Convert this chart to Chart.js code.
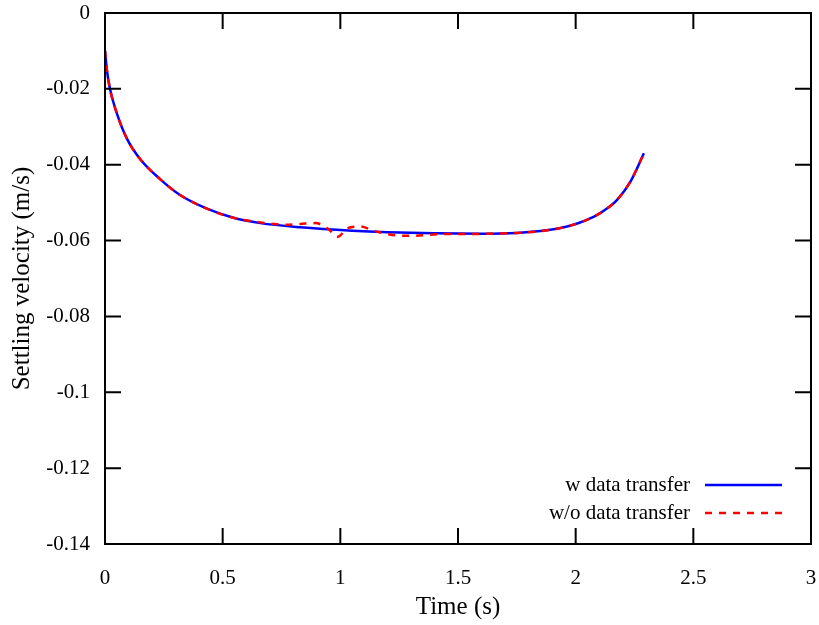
<!DOCTYPE html>
<html>
<head>
<meta charset="utf-8">
<script src="https://cdn.jsdelivr.net/npm/chart.js@4.4.0/dist/chart.umd.min.js"></script>
<style>
    html, body { margin: 0; padding: 0; background: #fff; }
    #wrap { width: 819px; height: 625px; }
</style>
</head>
<body>
<div id="wrap"><canvas id="chart" width="819" height="625"></canvas></div>
<script>
// Time (s) and settling velocity (m/s)
const timeW = [0, 0.008, 0.021, 0.05, 0.092, 0.149, 0.234, 0.319, 0.433, 0.546, 0.66, 0.83, 1.05, 1.2, 1.4,
    1.6, 1.75, 1.85, 1.936, 2.007, 2.078, 2.13, 2.177, 2.234, 2.29];
const velocityW = [-0.0100, -0.0150, -0.0200, -0.0264, -0.0330, -0.0385, -0.0438, -0.0480, -0.0516, -0.0540,
    -0.0554, -0.0565, -0.0574, -0.0578, -0.0581, -0.0582, -0.0580, -0.0575, -0.0567, -0.0555, -0.0537, -0.0517,
    -0.0492, -0.0443, -0.0370];

const timeWo = [0, 0.008, 0.021, 0.05, 0.092, 0.149, 0.234, 0.319, 0.433, 0.546, 0.66, 0.716, 0.773, 0.83, 0.894,
    0.946, 0.989, 1.031, 1.085, 1.142, 1.199, 1.255, 1.319, 1.376, 1.44, 1.5, 1.553, 1.617, 1.75, 1.85, 1.936,
    2.007, 2.078, 2.13, 2.177, 2.234, 2.29];
const velocityWo = [-0.0100, -0.0150, -0.0200, -0.0264, -0.0330, -0.0385, -0.0438, -0.0480, -0.0516, -0.0540,
    -0.0552, -0.0556, -0.0558, -0.0556, -0.0554, -0.0568, -0.0590, -0.0567, -0.0563, -0.0574, -0.0583, -0.0587,
    -0.0587, -0.0585, -0.0583, -0.0583, -0.0583, -0.0582, -0.0580, -0.0575, -0.0567, -0.0555, -0.0537, -0.0517,
    -0.0492, -0.0443, -0.0370];

const xTicks = [0, 0.5, 1, 1.5, 2, 2.5, 3];
const yTicks = [0, -0.02, -0.04, -0.06, -0.08, -0.1, -0.12, -0.14];

const seriesLabels = ['w data transfer', 'w/o data transfer'];

const FONT = "'Liberation Serif', 'Times New Roman', serif";

function toPoints(xs, ys) {
    return xs.map((x, i) => ({ x: x, y: ys[i] }));
}

function fmt(v) {
    return String(parseFloat(v.toFixed(2)));
}

function noPadding(s) {
    s.paddingTop = 0;
    s.paddingBottom = 0;
    s.paddingLeft = 0;
    s.paddingRight = 0;
}

// gnuplot-like frame: border, inward ticks on all four sides, legend inside
const framePlugin = {
    id: 'frame',
    afterDraw(chart) {
        const ctx = chart.ctx;
        const a = chart.chartArea;
        const xs = chart.scales.x;
        const ys = chart.scales.y;
        const tick = 16;

        ctx.save();
        ctx.strokeStyle = '#000';
        ctx.lineWidth = 2;
        ctx.beginPath();
        xTicks.forEach(v => {
            const px = xs.getPixelForValue(v);
            ctx.moveTo(px, a.bottom); ctx.lineTo(px, a.bottom - tick);
            ctx.moveTo(px, a.top); ctx.lineTo(px, a.top + tick);
        });
        yTicks.forEach(v => {
            const py = ys.getPixelForValue(v);
            ctx.moveTo(a.left, py); ctx.lineTo(a.left + tick, py);
            ctx.moveTo(a.right, py); ctx.lineTo(a.right - tick, py);
        });
        ctx.stroke();
        ctx.strokeRect(a.left, a.top, a.right - a.left, a.bottom - a.top);

        // legend (drawn from the datasets themselves)
        ctx.font = '21px ' + FONT;
        ctx.textAlign = 'right';
        ctx.textBaseline = 'middle';
        ctx.fillStyle = '#000';
        chart.data.datasets.forEach((ds, i) => {
            const y = 485 + i * 28;
            ctx.fillText(ds.label, 690, y);
            ctx.strokeStyle = ds.borderColor;
            ctx.lineWidth = ds.borderWidth;
            ctx.setLineDash(ds.borderDash || []);
            ctx.beginPath();
            ctx.moveTo(705, y);
            ctx.lineTo(782, y);
            ctx.stroke();
        });
        ctx.restore();
    }
};

const ctx = document.getElementById('chart').getContext('2d');
new Chart(ctx, {
    type: 'line',
    data: {
        datasets: [{
            label: seriesLabels[0],
            data: toPoints(timeW, velocityW),
            borderColor: '#0000ff',
            borderWidth: 2.5,
            pointRadius: 0,
            fill: false,
            order: 2,
            cubicInterpolationMode: 'monotone'
        }, {
            label: seriesLabels[1],
            data: toPoints(timeWo, velocityWo),
            borderColor: '#ff0000',
            borderWidth: 2.5,
            borderDash: [7, 7],
            pointRadius: 0,
            fill: false,
            order: 1,
            cubicInterpolationMode: 'monotone'
        }]
    },
    options: {
        responsive: false,
        animation: false,
        layout: { padding: { top: 13, right: 8, left: 0, bottom: 0 } },
        plugins: {
            legend: { display: false },
            tooltip: { enabled: false }
        },
        scales: {
            x: {
                type: 'linear',
                min: 0,
                max: 3,
                afterBuildTicks: s => { s.ticks = xTicks.map(v => ({ value: v })); },
                afterFit: s => { s.height = 81; noPadding(s); },
                grid: { display: false, drawTicks: false },
                border: { display: false },
                ticks: {
                    color: '#000',
                    font: { family: FONT, size: 21 },
                    padding: 22,
                    maxRotation: 0,
                    callback: v => fmt(v)
                },
                title: {
                    display: true,
                    text: 'Time (s)',
                    color: '#000',
                    font: { family: FONT, size: 25 },
                    padding: { top: 0, bottom: 3 }
                }
            },
            y: {
                type: 'linear',
                min: -0.14,
                max: 0,
                afterBuildTicks: s => { s.ticks = yTicks.map(v => ({ value: v })); },
                afterFit: s => { s.width = 105; noPadding(s); },
                grid: { display: false, drawTicks: false },
                border: { display: false },
                ticks: {
                    color: '#000',
                    font: { family: FONT, size: 21 },
                    padding: 15,
                    callback: v => fmt(v)
                },
                title: {
                    display: true,
                    text: 'Settling velocity (m/s)',
                    color: '#000',
                    font: { family: FONT, size: 25 },
                    padding: { top: 7, bottom: 0 }
                }
            }
        }
    },
    plugins: [framePlugin]
});
</script>
</body>
</html>
